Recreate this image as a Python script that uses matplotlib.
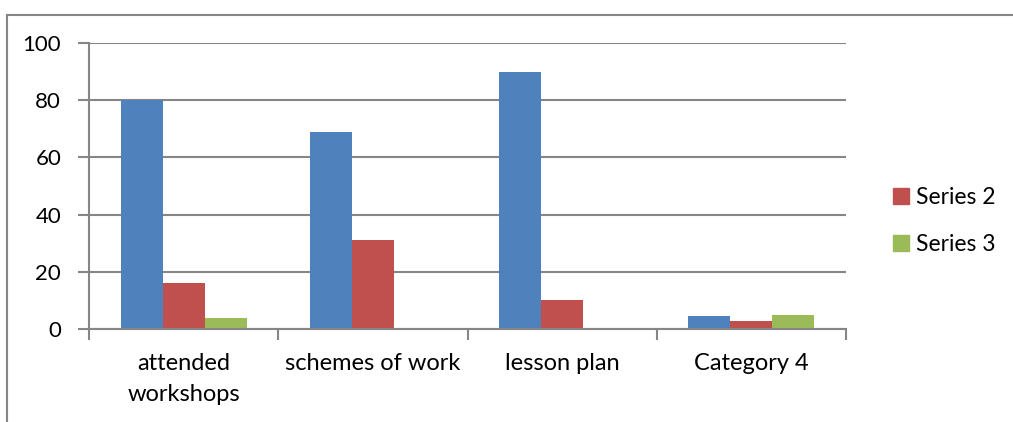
import numpy as np
import matplotlib
matplotlib.use('Agg')
import matplotlib.pyplot as plt
from matplotlib.lines import Line2D
from matplotlib.patches import Patch

plt.rcParams['font.family'] = ['Lato', 'DejaVu Sans']

categories = ['attended\nworkshops', 'schemes of work', 'lesson plan', 'Category 4']
series1 = [80, 69, 90, 4.5]
series2 = [16, 31, 10, 2.8]
series3 = [4, 0, 0, 5]
yticks = [0, 20, 40, 60, 80, 100]

blue = '#4f81bd'
red = '#c0504d'
green = '#9bbb59'
gray = '#868686'

fig = plt.figure(figsize=(10.13, 4.22), dpi=100)
ax = fig.add_axes([89/1013, 1-329/422, (846-89)/1013, (329-43)/422])

x = np.arange(len(categories))
w = 1/4.5
ax.bar(x - w, series1, w, color=blue, label='Series 1')
ax.bar(x, series2, w, color=red, label='Series 2')
ax.bar(x + w, series3, w, color=green, label='Series 3')

ax.set_xlim(-0.5, len(categories) - 0.5)
ax.set_ylim(0, 100)
ax.set_yticks(yticks)
ax.yaxis.grid(True, color=gray, linewidth=1.5)
ax.set_axisbelow(True)

ax.set_xticks(np.arange(-0.5, len(categories)), minor=False)
ax.set_xticklabels([])
ax.set_xticks(x, minor=True)
ax.set_xticklabels(categories, minor=True, fontsize=17, linespacing=1.6)
ax.tick_params(axis='x', which='minor', length=0, pad=17)
ax.tick_params(axis='x', which='major', length=8, width=1.5, color=gray, direction='out')
ax.tick_params(axis='y', length=8, width=1.5, color=gray, direction='out', labelsize=16, pad=12)

for s in ['top', 'right']:
    ax.spines[s].set_visible(False)
for s in ['left', 'bottom']:
    ax.spines[s].set_color(gray)
    ax.spines[s].set_linewidth(1.5)

handles = [Patch(color=red), Patch(color=green)]
fig.legend(handles, ['Series 2', 'Series 3'], loc='center left',
           bbox_to_anchor=(872/1013, 1-221/422), frameon=False, fontsize=16.5,
           handlelength=0.7, handleheight=0.7, handletextpad=0.3, labelspacing=1.12)

# outer chart border (top and left only visible)
fig.add_artist(Line2D([7/1013, 1], [1-15/422, 1-15/422], color=gray, linewidth=1.5, transform=fig.transFigure))
fig.add_artist(Line2D([7/1013, 7/1013], [0, 1-15/422], color=gray, linewidth=1.5, transform=fig.transFigure))

fig.savefig('out.png', dpi=100)
